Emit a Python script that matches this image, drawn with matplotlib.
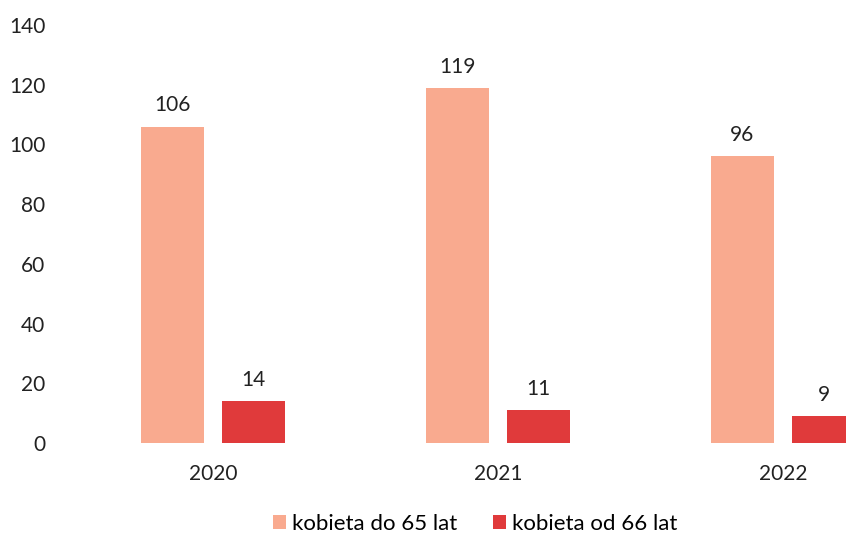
import matplotlib
matplotlib.use('Agg')
import matplotlib.pyplot as plt
import numpy as np

years = ['2020', '2021', '2022']
do_65 = [106, 119, 96]
od_66 = [14, 11, 9]
labels = ['kobieta do 65 lat', 'kobieta od 66 lat']
colors = ['#F9AA8F', '#E03A3B']

plt.rcParams['font.family'] = ['Lato', 'DejaVu Sans']

fig = plt.figure(figsize=(8.46, 5.37), dpi=100)
ax = fig.add_axes([70.5 / 846, 94 / 537, 1 - 70.5 / 846, (443 - 25) / 537])

x = np.arange(len(years))
w = 0.221
b1 = ax.bar(x - 0.143, do_65, w, color=colors[0], label=labels[0])
b2 = ax.bar(x + 0.143, od_66, w, color=colors[1], label=labels[1])

for bars in (b1, b2):
    for r in bars:
        ax.annotate(str(int(r.get_height())), (r.get_x() + r.get_width() / 2, r.get_height()),
                    xytext=(0, 8), textcoords='offset points', ha='center', va='bottom',
                    fontsize=15, color='#222222')

ax.set_xlim(-0.5, 2.221)
ax.set_ylim(0, 140)
ax.set_yticks(range(0, 141, 20))
ax.set_xticks(x)
ax.set_xticklabels(years)
ax.tick_params(axis='both', length=0, labelsize=15, colors='#222222')
ax.tick_params(axis='y', pad=18)
ax.tick_params(axis='x', pad=15)
for s in ax.spines.values():
    s.set_visible(False)

fig.legend(handles=[b1, b2], labels=labels, loc='center', bbox_to_anchor=(475 / 846, 1 - 524 / 537),
           ncol=2, frameon=False, fontsize=16, handlelength=0.6, handleheight=0.6,
           handletextpad=0.25, columnspacing=1.6)

fig.savefig('out.png', dpi=100)
